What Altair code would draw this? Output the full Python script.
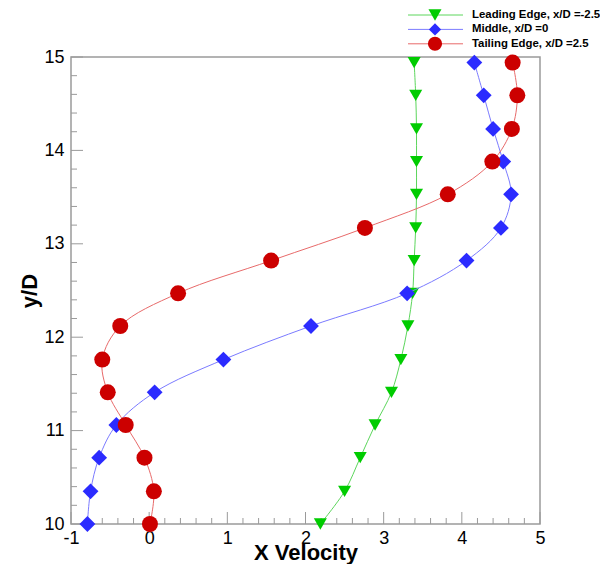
import altair as alt
import pandas as pd

# ---------------- data ----------------
y_levels = [10.00, 10.35, 10.71, 11.06, 11.41, 11.76, 12.12, 12.47,
            12.82, 13.17, 13.53, 13.88, 14.23, 14.59, 14.94]
leading_x = [2.19, 2.50, 2.70, 2.89, 3.10, 3.22, 3.31, 3.37,
             3.39, 3.41, 3.42, 3.42, 3.42, 3.41, 3.39]
middle_x = [-0.79, -0.75, -0.64, -0.42, 0.07, 0.95, 2.07, 3.30,
            4.06, 4.50, 4.63, 4.53, 4.40, 4.28, 4.16]
tailing_x = [0.01, 0.06, -0.06, -0.30, -0.53, -0.60, -0.37, 0.37,
             1.56, 2.76, 3.82, 4.39, 4.64, 4.71, 4.65]

series_names = ["Leading Edge, x/D =-2.5", "Middle, x/D =0", "Tailing Edge, x/D =2.5"]
series_x = [leading_x, middle_x, tailing_x]
marker_colors = ["#00cc00", "#2b2bff", "#cc0000"]
line_colors = ["#5cd65c", "#7b7bff", "#e86a6a"]
shapes = ["triangle-down", "diamond", "circle"]
sizes = [170, 250, 256]
legend_sizes = [170, 150, 200]

x_major = [-1, 0, 1, 2, 3, 4, 5]
x_minor = [round(-1 + 0.2 * i, 1) for i in range(31) if i % 5 != 0]
y_major = [10, 11, 12, 13, 14, 15]
y_minor = [round(10 + 0.2 * i, 1) for i in range(26) if i % 5 != 0]

W, H = 469, 467
FONT = "Liberation Sans"
FRAME = "#9a9a9a"

xs = alt.Scale(domain=[-1, 5], nice=False, zero=False)
ys = alt.Scale(domain=[10, 15], nice=False, zero=False)

x_axis = alt.Axis(values=x_major, ticks=False, tickSize=0, domain=False, grid=False,
                  labelFontSize=18, labelColor="black", labelFont=FONT, labelPadding=5,
                  labelFlush=False, labelExpr="'' + datum.value",
                  title="X Velocity", titleFontSize=22, titleFontWeight="bold",
                  titleFont=FONT, titleColor="black",
                  titleBaseline="alphabetic", titleY=35)
y_axis = alt.Axis(values=y_major, ticks=False, tickSize=0, domain=False, grid=False,
                  labelFontSize=18, labelColor="black", labelFont=FONT, labelPadding=7,
                  labelFlush=False, labelExpr="'' + datum.value",
                  title="y/D", titleFontSize=22, titleFontWeight="bold",
                  titleFont=FONT, titleColor="black", titlePadding=2)

layers = []

# axis ticks (inward)
def xticks(vals, length):
    return alt.Chart(pd.DataFrame({"v": vals})).mark_rule(color=FRAME, strokeWidth=1).encode(
        x=alt.X("v:Q", scale=xs, axis=x_axis),
        y=alt.value(H), y2=alt.value(H - length))

def yticks(vals, length):
    return alt.Chart(pd.DataFrame({"v": vals})).mark_rule(color=FRAME, strokeWidth=1).encode(
        y=alt.Y("v:Q", scale=ys, axis=y_axis),
        x=alt.value(0), x2=alt.value(length))

layers += [xticks(x_major, 12), xticks(x_minor, 6), yticks(y_major, 12), yticks(y_minor, 6)]

# series
for name, xv, mc, lc, sh, sz in zip(series_names, series_x, marker_colors, line_colors, shapes, sizes):
    df = pd.DataFrame({"x": xv, "y": y_levels})
    enc = dict(x=alt.X("x:Q", scale=xs, axis=x_axis),
               y=alt.Y("y:Q", scale=ys, axis=y_axis))
    line = alt.Chart(df).mark_line(interpolate="catmull-rom", strokeWidth=1, color=lc).encode(
        order=alt.Order("y:Q"), **enc)
    pts = alt.Chart(df).mark_point(filled=True, shape=sh, size=sz, color=mc, opacity=1,
                                   strokeWidth=0).encode(**enc)
    layers += [line, pts]

# legend (above plot, top right)
for i, (name, mc, lc, sh, sz) in enumerate(zip(series_names, marker_colors, line_colors, shapes, legend_sizes)):
    ly = -42 + i * 14.4
    ldf = pd.DataFrame({"name": [name]})
    layers.append(alt.Chart(ldf).mark_rule(color=lc, strokeWidth=1).encode(
        x=alt.value(337), x2=alt.value(392), y=alt.value(ly)))
    layers.append(alt.Chart(ldf).mark_point(filled=True, shape=sh, size=sz, color=mc,
                                            opacity=1, strokeWidth=0).encode(
        x=alt.value(364), y=alt.value(ly)))
    layers.append(alt.Chart(ldf).mark_text(align="left", baseline="middle", font=FONT,
                                           fontSize=11.4, fontWeight="bold", color="black").encode(
        text="name:N", x=alt.value(401), y=alt.value(ly)))

chart = alt.layer(*layers).properties(
    width=W, height=H,
    autosize=alt.AutoSizeParams(type="none"),
    padding={"left": 63, "top": 49, "right": 60, "bottom": 40},
).configure_view(stroke=FRAME, strokeWidth=1.5)

chart.save("out.html", embed_options={"renderer": "svg", "actions": False})
